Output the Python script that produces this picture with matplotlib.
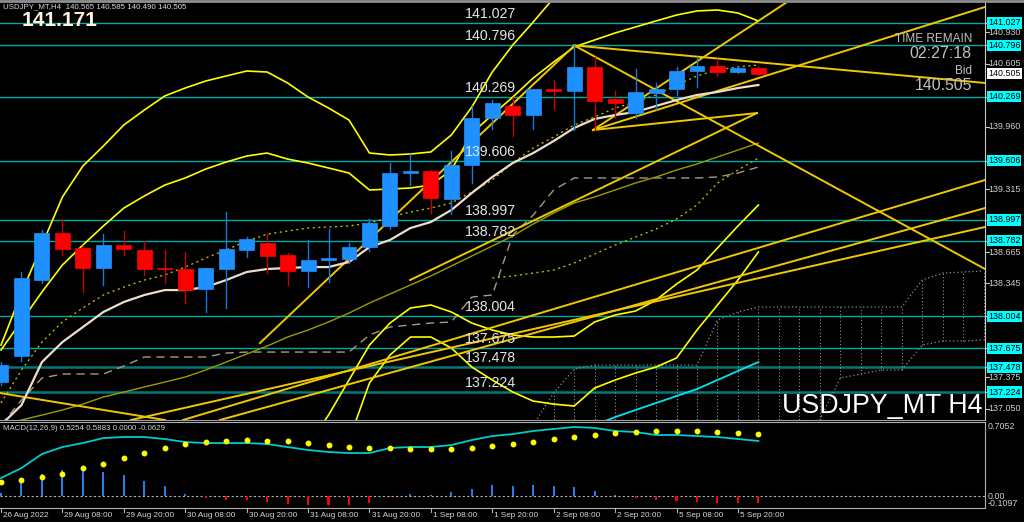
import matplotlib
matplotlib.use("Agg")
import matplotlib.pyplot as plt
from matplotlib.patches import Rectangle
import numpy as np

nan = np.nan
# ---------------- price data (USDJPY_MT H4) ----------------
opens = [137.327, 137.595, 138.378, 138.863, 138.708, 138.502, 138.739, 138.688, 138.502, 138.492,
         138.286, 138.492, 138.688, 138.760, 138.636, 138.471, 138.584, 138.595, 138.718, 138.935,
         139.481, 139.502, 139.213, 139.564, 140.048, 140.172, 140.079, 140.347, 140.326, 140.574,
         140.244, 140.099, 140.306, 140.347, 140.532, 140.584, 140.522, 140.565]
highs = [137.533, 138.461, 138.894, 139.007, 138.739, 138.852, 138.883, 138.780, 138.688, 138.667,
         138.502, 139.079, 138.822, 138.852, 138.657, 138.791, 138.904, 138.760, 139.007, 139.584,
         139.677, 139.512, 139.708, 140.172, 140.233, 140.264, 140.350, 140.440, 140.796, 140.677,
         140.326, 140.553, 140.409, 140.574, 140.677, 140.656, 140.584, 140.585]
lows = [137.296, 137.544, 138.347, 138.636, 138.255, 138.327, 138.636, 138.430, 138.347, 138.141,
        138.049, 138.090, 138.615, 138.450, 138.327, 138.306, 138.358, 138.554, 138.677, 138.904,
        139.358, 139.069, 139.059, 139.378, 139.935, 139.862, 139.935, 140.141, 139.924, 139.924,
        140.058, 140.048, 140.141, 140.285, 140.367, 140.481, 140.512, 140.490]
closes = [137.502, 138.399, 138.863, 138.698, 138.502, 138.739, 138.698, 138.492, 138.492, 138.275,
          138.502, 138.698, 138.801, 138.626, 138.471, 138.584, 138.605, 138.718, 138.966, 139.481,
          139.502, 139.223, 139.564, 140.048, 140.203, 140.079, 140.347, 140.326, 140.574, 140.223,
          140.203, 140.316, 140.347, 140.532, 140.584, 140.522, 140.563, 140.505]

# ---------------- indicators ----------------
band_outer_up = [137.708, 138.244, 138.739, 139.234, 139.553, 139.759, 139.976, 140.130, 140.275, 140.357,
                 140.429, 140.481, 140.532, 140.522, 140.409, 140.264, 140.151, 140.027, 139.687, 139.667,
                 139.677, 139.698, 139.873, 140.161, 140.522, 140.800, 141.037, 141.285,
                 nan, nan, nan, nan, nan, nan, nan, nan, nan, nan]
band_inner_up = [137.657, 137.956, 138.255, 138.533, 138.739, 138.935, 139.120, 139.244, 139.357, 139.430,
                 139.522, 139.594, 139.656, 139.687, 139.625, 139.584, 139.533, 139.481, 139.306, 139.316,
                 139.327, 139.357, 139.512, 139.893, 140.079, 140.264, 140.460, 140.625, 140.780, 140.852,
                 140.924, 140.986, 141.048, 141.109, 141.151, 141.161, 141.130, 141.048]
band_inner_low = [nan] * 15 + [136.678, 136.987, 137.348, 137.708, 137.935, 138.090, 138.121, 138.049, 137.935,
                               137.863, 137.812, 137.791, 137.791, 137.801, 137.946, 138.018, 138.059, 138.172,
                               138.337, 138.481, 138.708, 138.935, 139.151]
band_outer_low = [nan] * 17 + [136.729, 137.317, 137.605, 137.791, 137.791, 137.678, 137.482, 137.348, 137.224,
                               137.131, 137.100, 137.080, 137.265, 137.348, 137.420, 137.482, 137.575, 137.863,
                               138.121, 138.378, 138.667]
ma_beige = [136.884, 137.090, 137.533, 137.739, 137.894, 138.049, 138.152, 138.224, 138.275, 138.275,
            138.306, 138.378, 138.461, 138.492, 138.502, 138.512, 138.512, 138.564, 138.718, 138.791,
            138.914, 138.976, 139.100, 139.275, 139.440, 139.584, 139.687, 139.811, 139.945, 140.038,
            140.079, 140.110, 140.172, 140.233, 140.285, 140.316, 140.357, 140.388]
ma_dotted = [137.111, 137.451, 137.739, 137.946, 138.090, 138.224, 138.306, 138.378, 138.430, 138.512,
             138.605, 138.688, 138.780, 138.852, 138.883, 138.914, 138.925, 138.935, 138.966, 139.028,
             139.079, 139.120, 139.172, 139.285, 139.409, 139.584, 139.739, 139.852, 139.976, 140.058,
             140.151, 140.213, 140.285, 140.388, 140.481, 140.543, 140.574, 140.594]
ma_dotted_slow = [nan] * 24 + [138.399, 138.420, 138.450, 138.481, 138.554, 138.646, 138.739, 138.821,
                               138.904, 139.007, 139.151, 139.378, 139.512, 139.636]
ma_olive = [136.884, 136.936, 136.987, 137.039, 137.100, 137.173, 137.224, 137.276, 137.327, 137.379,
            137.451, 137.533, 137.616, 137.698, 137.791, 137.863, 137.946, 138.038, 138.141, 138.234,
            138.327, 138.420, 138.523, 138.626, 138.729, 138.832, 138.956, 139.069, 139.172, 139.234,
            139.306, 139.378, 139.440, 139.512, 139.574, 139.646, 139.718, 139.790]
kijun = [136.884, 137.142, 137.368, 137.410, 137.410, 137.410, 137.492, 137.585, 137.585, 137.585,
         137.585, 137.626, 137.636, 137.636, 137.636, 137.636, 137.636, 137.636, 137.812, 137.894,
         137.915, 137.935, 137.946, 138.203, 138.224, 138.842, 139.048, 139.306, 139.430, 139.430,
         139.430, 139.430, 139.430, 139.430, 139.430, 139.440, 139.481, 139.543]
cyan_line = [nan] * 29 + [136.884, 136.966, 137.039, 137.111, 137.183, 137.255, 137.348, 137.441, 137.533]
# ichimoku cloud (shifted forward, bars 26..48)
cloud_bars = list(range(26, 49))
cloud_top = [136.884, 137.214, 137.461, 137.502, 137.502, 137.502, 137.502, 137.502, 137.502, 137.966,
             138.049, 138.100, 138.100, 138.100, 138.100, 138.100, 138.100, 138.100, 138.100, 138.378,
             138.450, 138.461, 138.471]
cloud_bot = [nan] * 14 + [136.936, 137.368, 137.410, 137.451, 137.451, 137.708, 137.750, 137.750, 137.760]

# trend lines: ((bar, price), (bar, price))
trend_lines = [
    ((28.0, 140.796), (48.07, 140.409)),
    ((28.0, 140.796), (48.07, 138.492)),
    ((28.92, 139.924), (48.07, 141.192)),
    ((28.92, 139.924), (38.55, 141.264)),
    ((28.92, 139.924), (36.93, 140.099)),
    ((12.65, 137.729), (27.94, 140.780)),
    ((19.98, 138.378), (36.93, 140.099)),
    ((8.89, 136.936), (48.07, 139.409)),
    ((10.70, 136.936), (48.07, 139.120)),
    ((6.35, 136.936), (48.07, 138.925)),
    ((-0.05, 137.214), (8.01, 136.936)),
]

levels = [141.027, 140.796, 140.269, 139.606, 138.997, 138.782, 138.004, 137.675, 137.478, 137.224]
axis_ticks = [140.930, 140.605, 139.960, 139.315, 138.665, 138.345, 137.375, 137.050]

macd_main = [0.174, 0.269, 0.402, 0.468, 0.506, 0.553, 0.563, 0.563, 0.544, 0.515,
             0.506, 0.506, 0.506, 0.497, 0.468, 0.440, 0.421, 0.411, 0.411, 0.459,
             0.468, 0.468, 0.487, 0.534, 0.572, 0.591, 0.620, 0.639, 0.658, 0.649,
             0.620, 0.610, 0.582, 0.582, 0.572, 0.563, 0.544, 0.5254]
macd_signal = [0.136, 0.155, 0.184, 0.212, 0.269, 0.307, 0.364, 0.411, 0.459, 0.497,
               0.515, 0.525, 0.534, 0.525, 0.525, 0.506, 0.487, 0.468, 0.459, 0.459,
               0.449, 0.449, 0.449, 0.459, 0.478, 0.497, 0.515, 0.544, 0.563, 0.582,
               0.601, 0.610, 0.620, 0.620, 0.620, 0.610, 0.601, 0.5883]
macd_hist = [0.035, 0.136, 0.215, 0.253, 0.272, 0.230, 0.205, 0.148, 0.095, 0.025,
             -0.016, -0.032, -0.035, -0.054, -0.076, -0.085, -0.079, -0.085, -0.063, -0.006,
             0.019, 0.016, 0.038, 0.073, 0.107, 0.101, 0.107, 0.095, 0.085, 0.054,
             0.016, -0.016, -0.038, -0.047, -0.054, -0.063, -0.063, -0.0629]

time_labels = ["26 Aug 2022", "29 Aug 08:00", "29 Aug 20:00", "30 Aug 08:00", "30 Aug 20:00",
               "31 Aug 08:00", "31 Aug 20:00", "1 Sep 08:00", "1 Sep 20:00", "2 Sep 08:00",
               "2 Sep 20:00", "5 Sep 08:00", "5 Sep 20:00"]
time_label_bars = [0, 3, 6, 9, 12, 15, 18, 21, 24, 27, 30, 33, 36]

# ---------------- figure ----------------
plt.rcParams['font.family'] = ['Liberation Sans', 'DejaVu Sans']
W, H = 1024, 522
fig = plt.figure(figsize=(W / 100, H / 100), dpi=100, facecolor='black')
renderer = fig.canvas.get_renderer()


def fit_width(t, target_px):
    w = t.get_window_extent(renderer=renderer).width
    if w > 0:
        t.set_fontsize(t.get_fontsize() * target_px / w)
    return t


XL = (-0.0489, 48.07)
ax = fig.add_axes([0, (H - 420) / H, 985 / W, 417 / H])
ax.set_facecolor('black')
ax.set_xlim(*XL)
ax.set_ylim(136.936, 141.233)
ax.set_xticks([]); ax.set_yticks([])
for s in ['left', 'top']:
    ax.spines[s].set_visible(False)
ax.spines['right'].set_color('#c8c8c8')
ax.spines['bottom'].set_color('#a0a0a0')

n = len(opens)
xs = np.arange(n)

# level lines
for lv in levels:
    dark = lv in (137.478, 137.224)
    ax.axhline(lv, color='#007a7a' if dark else '#00a8a8', lw=1.8 if dark else 1.0, zorder=1)
    ax.text(22.65, lv + 0.02, f"{lv:.3f}", color='#e6e6e6', fontsize=10.2, ha='left', va='bottom', zorder=6)

# ichimoku cloud
cb = np.array(cloud_bars, dtype=float)
ct = np.array(cloud_top); cbot = np.array(cloud_bot)
ax.plot(cb, ct, color='#909090', lw=0.9, ls=(0, (1, 2)), zorder=2)
ax.plot(cb, cbot, color='#909090', lw=0.9, ls=(0, (1, 2)), zorder=2)
for b, t, lo in zip(cb, ct, cbot):
    lo_v = 136.8 if np.isnan(lo) else lo
    ax.plot([b, b], [lo_v, t], color='#909090', lw=0.8, ls=(0, (1, 2)), zorder=2)

# indicators
ax.plot(xs, kijun, color='#a89888', lw=1.0, ls=(0, (6, 4)), zorder=2)
ax.plot(xs, ma_olive, color='#9c9c00', lw=1.0, zorder=2)
ax.plot(xs, ma_dotted, color='#b8b800', lw=1.0, ls=(0, (1.5, 2.5)), zorder=2)
ax.plot(xs, ma_dotted_slow, color='#b8b800', lw=1.0, ls=(0, (1.5, 2.5)), zorder=2)
for band in (band_outer_up, band_inner_up, band_inner_low, band_outer_low):
    ax.plot(xs, band, color='#ffff00', lw=1.2, zorder=3)
ax.plot(xs, cyan_line, color='#00e5ee', lw=1.3, zorder=3)
for (b0, p0), (b1, p1) in trend_lines:
    ax.plot([b0, b1], [p0, p1], color='#f0c800', lw=1.4, zorder=3)
ax.plot(xs, ma_beige, color='#f0dccb', lw=1.6, zorder=4)

# candles
bw = 0.73
for i in range(n):
    o, h, l, c = opens[i], highs[i], lows[i], closes[i]
    up = c >= o
    body = '#1e90ff' if up else '#ff0000'
    wick = '#1a78d8' if up else '#c80000'
    ax.plot([i, i], [l, h], color=wick, lw=1.0, zorder=5)
    bot = min(o, c); ht = max(abs(c - o), 0.012)
    ax.add_patch(Rectangle((i - bw / 2, bot), bw, ht, facecolor=body, edgecolor=body, lw=0.5, zorder=5))

# right axis labels
tx = 988 / 985
for t in axis_ticks:
    ax.text(tx, t, f"{t:.3f}", transform=ax.get_yaxis_transform(), color='#d0d0d0', fontsize=6.4,
            va='center', ha='left', clip_on=False)
for t in axis_ticks + levels:
    ax.plot([1.0, 1.004], [t, t], transform=ax.get_yaxis_transform(), color='#c8c8c8', lw=0.8, clip_on=False)
for lv in levels:
    ax.text(tx, lv, f"{lv:.3f}", transform=ax.get_yaxis_transform(), color='black', fontsize=6.4,
            va='center', ha='left', clip_on=False,
            bbox=dict(boxstyle='square,pad=0.12', facecolor='#00ffff', edgecolor='none'))
ax.text(tx, closes[-1], f"{closes[-1]:.3f}", transform=ax.get_yaxis_transform(), color='black', fontsize=6.4,
        va='center', ha='left', clip_on=False,
        bbox=dict(boxstyle='square,pad=0.12', facecolor='white', edgecolor='none'))

# texts
t = fig.text(3 / W, 1 - 7 / H, "USDJPY_MT,H4  140.565 140.585 140.490 140.505", color='#d8d8d8',
             fontsize=6.3, va='center', ha='left')
fit_width(t, 184)
t = fig.text(22 / W, 1 - 20 / H, "141.171", color='#fff2dc', fontsize=15, fontweight='bold',
             va='center', ha='left')
fit_width(t, 76)
t = fig.text(972 / W, 1 - 39 / H, "TIME REMAIN", color='#c0c0c0', fontsize=12, va='center', ha='right')
fit_width(t, 77)
t = fig.text(972 / W, 1 - 53.5 / H, "02:27:18", color='#c0c0c0', fontsize=12, va='center', ha='right')
fit_width(t, 62)
t = fig.text(972 / W, 1 - 71 / H, "Bid", color='#c0c0c0', fontsize=10, va='center', ha='right')
fit_width(t, 17)
t = fig.text(972 / W, 1 - 85.5 / H, "140.505", color='#c0c0c0', fontsize=14, va='center', ha='right')
fit_width(t, 58)
t = fig.text(983 / W, 1 - 406 / H, "USDJPY_MT H4", color='white', fontsize=22, va='center', ha='right')
fit_width(t, 200)

# ---------------- MACD panel ----------------
ax2 = fig.add_axes([0, (H - 508) / H, 985 / W, 86 / H])
ax2.set_facecolor('black')
ax2.set_xlim(*XL)
ax2.set_ylim(-0.1097, 0.7052)
ax2.set_xticks([]); ax2.set_yticks([])
ax2.spines['left'].set_visible(False)
for s in ['right', 'top', 'bottom']:
    ax2.spines[s].set_color('#b0b0b0')
ax2.axhline(0, color='#b0b0b0', lw=0.8, ls=(0, (2, 2)))
hist_cols = ['#1e80e8' if v >= 0 else '#ff0000' for v in macd_hist]
ax2.bar(xs, macd_hist, width=0.1, color=hist_cols, zorder=2)
ax2.plot(xs, macd_main, color='#00cccc', lw=1.3, zorder=3)
ax2.plot(xs, macd_signal, ls='none', marker='o', ms=3.2, color='#ffff00', zorder=4)
t = ax2.text(3 / 985, 0.97, "MACD(12,26,9) 0.5254 0.5883 0.0000 -0.0629", transform=ax2.transAxes,
             color='#d0d0d0', fontsize=6.0, va='top', ha='left')
fit_width(t, 165)
for v, s, va in [(0.7052, "0.7052", 'top'), (0.0, "0.00", 'center'), (-0.1097, "-0.1097", 'bottom')]:
    ax2.text(tx, v, s, transform=ax2.get_yaxis_transform(), color='#d0d0d0', fontsize=6.4,
             va=va, ha='left', clip_on=False)

# time axis
for b, lab in zip(time_label_bars, time_labels):
    ax2.plot([b, b], [-0.1097, -0.1097 - 0.04], color='#b0b0b0', lw=0.8, clip_on=False)
    ax2.text(b + 0.1, -0.1097 - 0.075, lab, color='#d8d8d8', fontsize=5.9, va='center', ha='left',
             clip_on=False)

fig.add_artist(plt.Line2D([0, 1], [1 - 1 / H, 1 - 1 / H], color='#909090', lw=2))

fig.savefig('out.png', dpi=100, facecolor='black')
